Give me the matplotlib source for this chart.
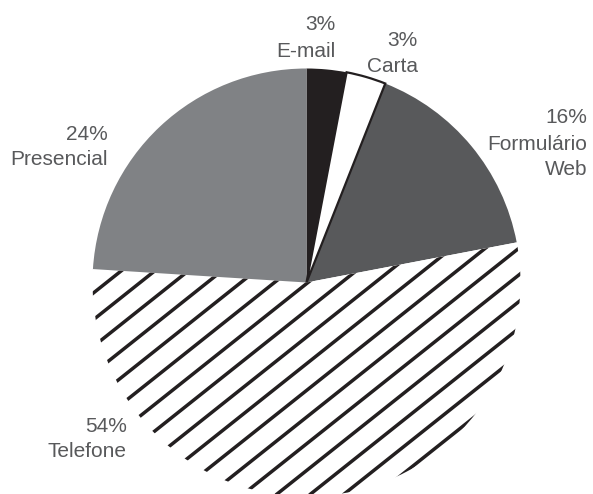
import numpy as np
import matplotlib
matplotlib.use('Agg')
import matplotlib.pyplot as plt

# Share of contacts by channel (%), clockwise from 12 o'clock
channels = ['E-mail', 'Carta', 'Formulário Web', 'Telefone', 'Presencial']
shares = [3, 3, 16, 54, 24]
label_lines = [['3%', 'E-mail'],
               ['3%', 'Carta'],
               ['16%', 'Formulário', 'Web'],
               ['54%', 'Telefone'],
               ['24%', 'Presencial']]

W, H = 593, 494
fig = plt.figure(figsize=(W / 100, H / 100), dpi=100)
ax = fig.add_axes([0, 0, 1, 1])

cx, cy, r = 306.5, H - 282.5, 214
colors = ['#231f20', '#ffffff', '#58595b', '#ffffff', '#808285']
wedges, _ = ax.pie(shares, colors=colors, startangle=90, counterclock=False,
                   center=(cx, cy), radius=r,
                   wedgeprops=dict(linewidth=0))

# Carta gets a black outline
wedges[1].set_edgecolor('#231f20')
wedges[1].set_linewidth(1.6)
wedges[1].set_zorder(3)

# diagonal stripes for Telefone, clipped to its wedge
tel = wedges[3]
slope = np.tan(np.radians(38.5))
step = 26.7
xs = np.array([0, W])
for k in range(-40, 40):
    ys = 179 + slope * (xs - 200) + k * step
    ln, = ax.plot(xs, ys, color='#231f20', lw=2.5, solid_capstyle='butt', zorder=2)
    ln.set_clip_path(tel)

ax.set_xlim(0, W)
ax.set_ylim(0, H)
ax.set_aspect('auto')
ax.axis('off')

# labels: right-aligned, one text per line at its baseline
label_pos = [(336, [30, 57]),
             (418, [46, 72]),
             (587, [123, 150, 175]),
             (127, [432, 457]),
             (108, [140, 165])]
for lines, (xr, bases) in zip(label_lines, label_pos):
    for txt, yb in zip(lines, bases):
        ax.text(xr, H - yb, txt, ha='right', va='baseline', fontsize=15,
                color='#58595b', family=['Liberation Sans', 'DejaVu Sans'])

fig.savefig('out.png', dpi=100)
